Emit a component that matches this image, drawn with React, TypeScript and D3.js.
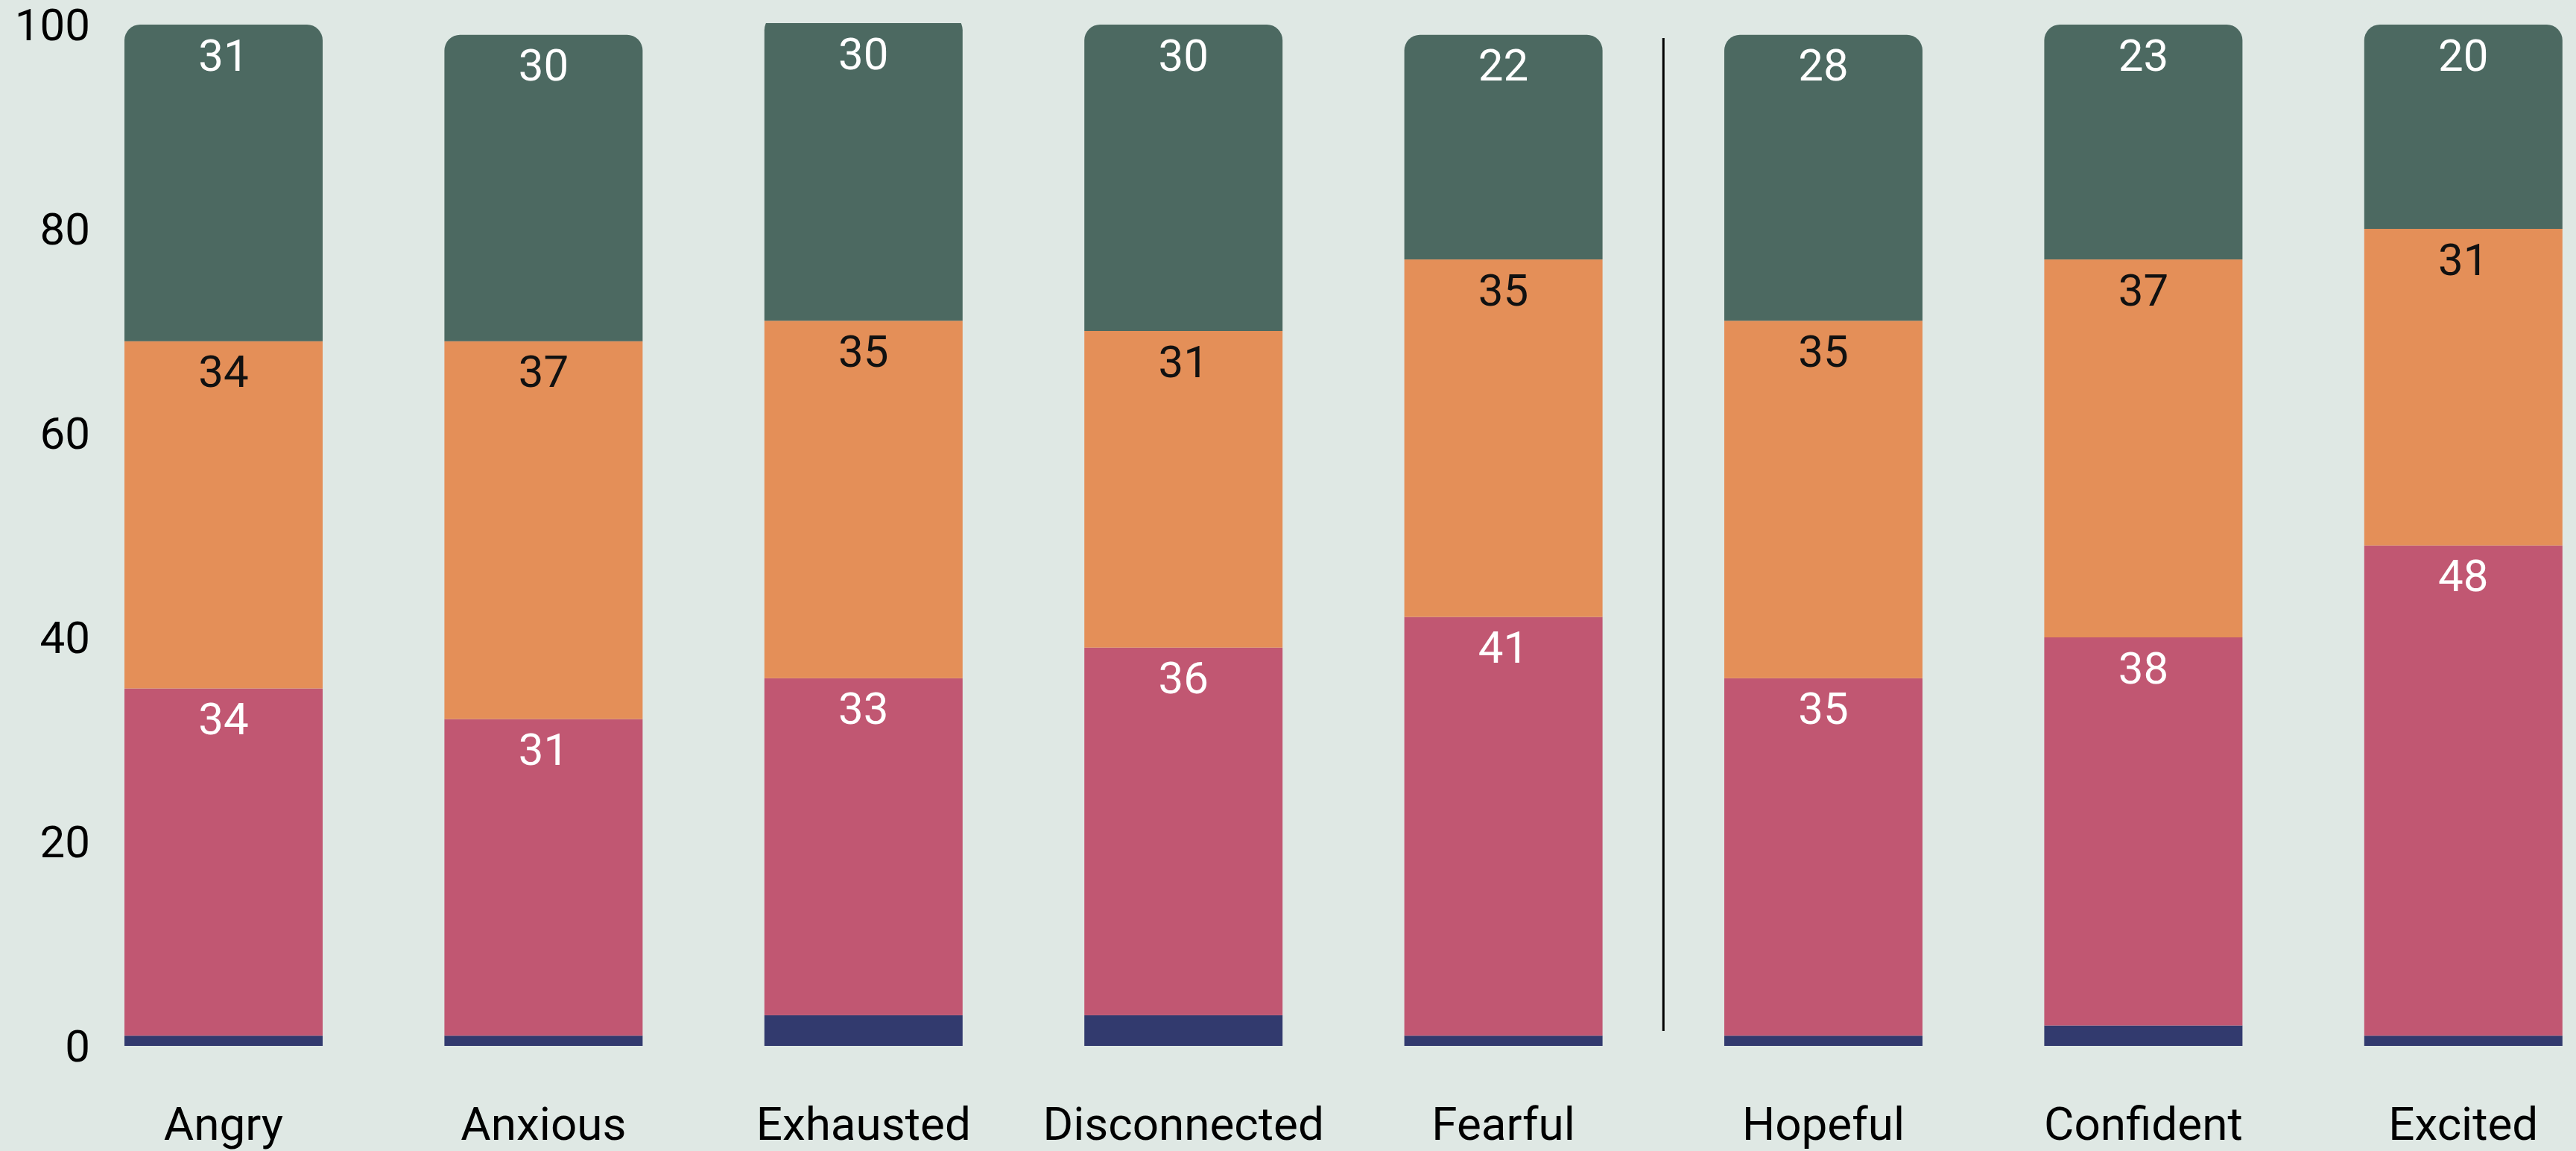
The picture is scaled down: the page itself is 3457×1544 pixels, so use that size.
import React from "react";
import * as d3 from "d3";

const categories = ["Angry", "Anxious", "Exhausted", "Disconnected", "Fearful", "Hopeful", "Confident", "Excited"];
const navyValues = [1, 1, 3, 3, 1, 1, 2, 1];
const pinkValues = [34, 31, 33, 36, 41, 35, 38, 48];
const orangeValues = [34, 37, 35, 31, 35, 35, 37, 31];
const greenValues = [31, 30, 30, 30, 22, 28, 23, 20];
const yTicks = [0, 20, 40, 60, 80, 100];
const dividerAfter = "Fearful";

const seriesKeys = ["navy", "pink", "orange", "green"];
const seriesColors: Record<string, string> = {
  navy: "#323a6e",
  pink: "#c15772",
  orange: "#e48f58",
  green: "#4c6961",
};
const labelColors: Record<string, string> = {
  navy: "#ffffff",
  pink: "#ffffff",
  orange: "#111111",
  green: "#ffffff",
};
const showLabel: Record<string, boolean> = { navy: false, pink: true, orange: true, green: true };

const W = 3457;
const H = 1544;
const BG = "#dfe8e4";

export default function App() {
  const rows = categories.map((c, i) => ({
    cat: c,
    navy: navyValues[i],
    pink: pinkValues[i],
    orange: orangeValues[i],
    green: greenValues[i],
  }));
  const stacked = d3.stack<any>().keys(seriesKeys)(rows);

  const step = 429.4;
  const bw = 266;
  const x = d3
    .scaleBand<string>()
    .domain(categories)
    .range([167, 167 + 7 * step + bw])
    .paddingInner(1 - bw / step)
    .paddingOuter(0);
  const y = d3.scaleLinear().domain([0, 100]).range([1403, 33]);
  const clipTop = 31;
  const r = 21;

  const topPath = (x0: number, y0: number, w: number, y1: number) => {
    // rounded top corners, y0 = top, y1 = bottom
    const p = d3.path();
    p.moveTo(x0, y1);
    p.lineTo(x0, y0 + r);
    p.arcTo(x0, y0, x0 + r, y0, r);
    p.lineTo(x0 + w - r, y0);
    p.arcTo(x0 + w, y0, x0 + w, y0 + r, r);
    p.lineTo(x0 + w, y1);
    p.closePath();
    return p.toString();
  };

  const dividerX =
    (x(dividerAfter)! + x.bandwidth() + x(categories[categories.indexOf(dividerAfter) + 1])!) / 2;

  const numFont = "Roboto, 'Open Sans', sans-serif";

  return (
    <svg
      width={W}
      height={H}
      style={{ position: "absolute", left: 0, top: 0, display: "block" }}
      xmlns="http://www.w3.org/2000/svg"
    >
      <defs>
        <clipPath id="plotClip">
          <rect x={0} y={clipTop} width={W} height={H - clipTop} />
        </clipPath>
      </defs>
      <rect x={0} y={0} width={W} height={H} fill={BG} />

      <g clipPath="url(#plotClip)">
        {stacked.map((s) =>
          s.map((d, i) => {
            const cat = categories[i];
            const x0 = x(cat)!;
            const yTop = y(d[1]);
            const yBot = y(d[0]);
            const isTop = s.key === "green";
            return isTop ? (
              <path key={s.key + cat} d={topPath(x0, yTop, x.bandwidth(), yBot)} fill={seriesColors[s.key]} />
            ) : (
              <rect
                key={s.key + cat}
                x={x0}
                y={yTop}
                width={x.bandwidth()}
                height={yBot - yTop}
                fill={seriesColors[s.key]}
              />
            );
          })
        )}
      </g>

      {stacked.map((s) =>
        showLabel[s.key]
          ? s.map((d, i) => {
              const cat = categories[i];
              const yTop = Math.max(y(d[1]), clipTop);
              return (
                <text
                  key={"l" + s.key + cat}
                  x={x(cat)! + x.bandwidth() / 2}
                  y={yTop + 41}
                  textAnchor="middle"
                  dominantBaseline="central"
                  fontFamily={numFont}
                  fontSize={60}
                  fill={labelColors[s.key]}
                >
                  {d[1] - d[0]}
                </text>
              );
            })
          : null
      )}

      {yTicks.map((t) => (
        <text
          key={"yt" + t}
          x={121}
          y={y(t)}
          textAnchor="end"
          dominantBaseline="central"
          fontFamily={numFont}
          fontSize={60}
          fill="#000"
        >
          {t}
        </text>
      ))}

      {categories.map((c) => (
        <text
          key={"xc" + c}
          x={x(c)! + x.bandwidth() / 2}
          y={1529}
          textAnchor="middle"
          fontFamily="Roboto, sans-serif"
          fontSize={62}
          fill="#000"
        >
          {c}
        </text>
      ))}

      <line x1={dividerX} x2={dividerX} y1={51} y2={1383} stroke="#000" strokeWidth={3} />
    </svg>
  );
}
